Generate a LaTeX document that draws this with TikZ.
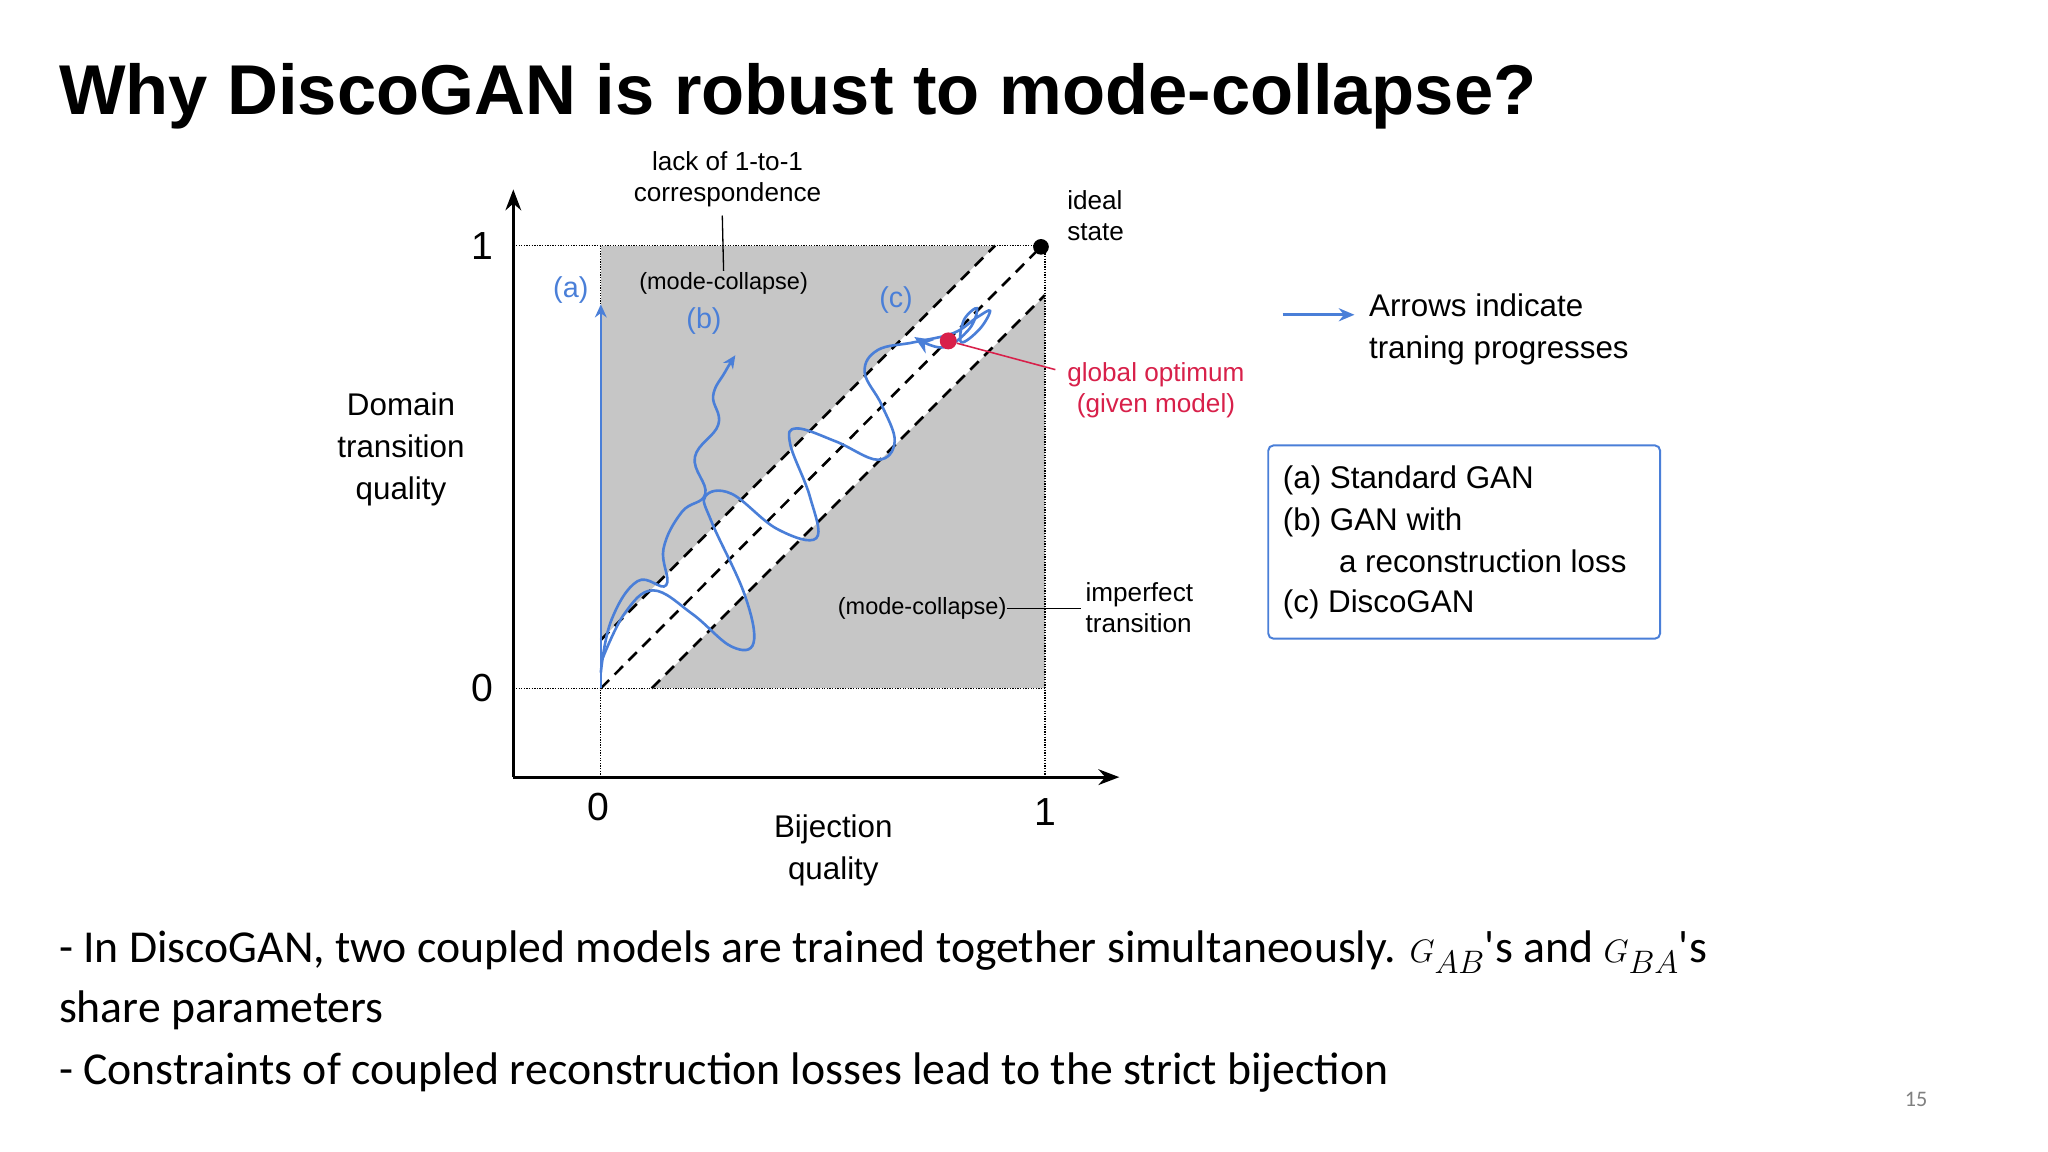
\documentclass[tikz,border=0pt]{standalone}
\usepackage{fontspec}
\setmainfont{Liberation Sans}
\newfontfamily\bodyfont{Carlito}
\usetikzlibrary{arrows.meta}
\definecolor{cblue}{HTML}{4A7FD8}
\definecolor{cred}{HTML}{D8204A}
\begin{document}
\begin{tikzpicture}[x=1pt,y=-1pt,
  lab/.style={font=\fontsize{20}{24}\selectfont,align=center,inner sep=0pt},
  blab/.style={font=\fontsize{22}{26}\selectfont,text=cblue,inner sep=0pt},
  big/.style={font=\fontsize{30}{34}\selectfont,inner sep=0pt},
  dots/.style={densely dotted,line width=1pt},
  bl/.style={cblue,line width=2pt,-{Stealth[length=10pt,width=9pt]}},
  dsh/.style={dashed,dash pattern=on 9pt off 6pt,line width=2pt}]
\useasboundingbox (0,0) rectangle (1568,882);
\fill[white] (0,0) rectangle (1568,882);
\node[anchor=base west,inner sep=0pt,font=\fontsize{54}{60}\selectfont\bfseries] (title) at (45,88) {Why DiscoGAN is robust to mode-collapse?};
% square
\fill[gray!45] (460,188) rectangle (800,527);
\fill[white] (460,490) -- (762,188) -- (800,188) -- (800,226) -- (499,527) -- (460,527) -- cycle;
\draw[dots] (393,188) -- (800,188);
\draw[dots] (393,527) -- (800,527);
\draw[dots] (460,188) -- (460,595);
\draw[dots] (800,188) -- (800,595);
\draw[dsh] (460,490) -- (762,188);
\draw[dsh] (460,527) -- (797,189);
\draw[dsh] (499,527) -- (800,226);
% axes
\coordinate (o) at (393,595);
\coordinate (ytop) at (393,145);
\coordinate (xend) at (857,595);
\draw[line width=2.5pt,-{Stealth[length=16pt,width=12pt]}] (o) -- (ytop);
\draw[line width=2.5pt,-{Stealth[length=16pt,width=12pt]}] (o) -- (xend);
\node[big] (y1) at (369,188) {1};
\node[big] (y0) at (369,527) {0};
\node[big] (x0) at (458,618) {0};
\node[big] (x1) at (800,622) {1};
\node[font=\fontsize{24}{32}\selectfont,align=center] (ylab) at (307,344) {Domain\\transition\\quality};
\node[font=\fontsize{24}{32}\selectfont,align=center] (xlab) at (638,651) {Bijection\\quality};
% points
\node[circle,fill=black,inner sep=0pt,minimum size=12pt] (ideal) at (797,189) {};
\node[lab,align=left,anchor=west] (idl) at (817,165) {ideal\\state};
% curves
\coordinate (a0) at (460,527); \coordinate (a1) at (460,233);
\draw[bl] (a0) -- (a1);
\draw[bl] plot[smooth,tension=0.7] coordinates {(460,515) (468,475) (488,445) (510,448) (508,420) (522,392) (540,378) (532,350) (550,325) (546,303) (555,285) (563,272)};
\draw[bl,-{Stealth[length=14pt,width=12pt]}] plot[smooth,tension=0.65] coordinates {(461,505) (478,470) (500,452) (530,470) (560,495) (577,492) (570,455) (545,400) (540,380) (560,378) (595,405) (625,412) (620,380) (605,340) (610,328) (640,338) (672,352) (685,338) (675,310) (662,285) (672,268) (700,262) (730,255) (748,243) (758,238) (750,252) (736,262) (738,245) (748,236) (742,252) (722,266) (700,258)};
\node[circle,fill=cred,inner sep=0pt,minimum size=13pt] (opt) at (726,261) {};
\coordinate (optend) at (808,283);
\draw[cred,line width=1.2pt] (opt) -- (optend);
\node[lab,text=cred] (optl) at (885,299) {global optimum\\(given model)};
\node[blab] (la) at (437,222) {(a)};
\node[blab] (lb) at (539,246) {(b)};
\node[blab] (lc) at (686,230) {(c)};
% annotations
\node[lab] (lack) at (557,137) {lack of 1-to-1\\correspondence};
\node[lab,font=\fontsize{18}{22}\selectfont,fill=gray!45,inner sep=1pt] (mc1) at (554,217) {(mode-collapse)};
\draw[line width=1pt] (553,165) -- (mc1.north);
\node[lab,font=\fontsize{18}{22}\selectfont] (mc2) at (706,466) {(mode-collapse)};
\coordinate (mc2e) at (828,466);
\draw[line width=1pt] (mc2) -- (mc2e);
\node[lab,align=left,anchor=west] (imp) at (831,465) {imperfect\\transition};
% legend
\coordinate (la0) at (982,241); \coordinate (la1) at (1037,241);
\draw[cblue,line width=2pt,-{Stealth[length=12pt,width=10pt]}] (la0) -- (la1);
\node[anchor=west,align=left,font=\fontsize{24}{32}\selectfont,inner sep=0pt] (legt) at (1048,252) {Arrows indicate\\traning progresses};
\draw[cblue,line width=1.5pt,rounded corners=4pt] (971,341) rectangle (1271,489);
\node[anchor=base west,font=\fontsize{24}{28}\selectfont,inner sep=0pt] (ba) at (982,374) {(a) Standard GAN};
\node[anchor=base west,font=\fontsize{24}{28}\selectfont,inner sep=0pt] (bb) at (982,406) {(b) GAN with};
\node[anchor=base west,font=\fontsize{24}{28}\selectfont,inner sep=0pt] (bb2) at (1025,438) {a reconstruction loss};
\node[anchor=base west,font=\fontsize{24}{28}\selectfont,inner sep=0pt] (bc) at (982,469) {(c) DiscoGAN};
% bottom text
\node[anchor=base west,inner sep=0pt,font=\bodyfont\fontsize{35}{40}\selectfont] (t1) at (45,737) {- In DiscoGAN, two coupled models are trained together simultaneously. $G_{AB}$'s and $G_{BA}$'s};
\node[anchor=base west,inner sep=0pt,font=\bodyfont\fontsize{35}{40}\selectfont] (t2) at (45,783) {share parameters};
\node[anchor=base west,inner sep=0pt,font=\bodyfont\fontsize{35}{40}\selectfont] (t3) at (45,830) {- Constraints of coupled reconstruction losses lead to the strict bijection};
\node[inner sep=0pt,font=\bodyfont\fontsize{17}{20}\selectfont,text=gray] (pg) at (1467,842) {15};
\end{tikzpicture}
\end{document}
